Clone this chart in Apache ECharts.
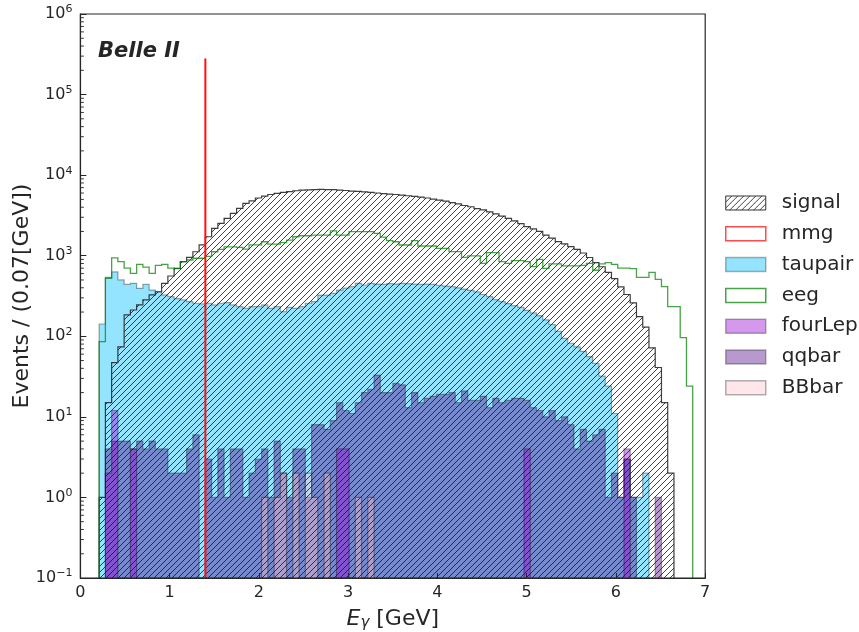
<!DOCTYPE html>
<html>
<head>
<meta charset="utf-8">
<script src="https://cdn.jsdelivr.net/npm/echarts@6/dist/echarts.min.js"></script>
<style>
html, body { margin: 0; padding: 0; background: #ffffff; }
#chart { width: 859px; height: 632px; }
</style>
</head>
<body>
<div id="chart"></div>
<script>
// Photon energy spectrum, 100 bins of 0.07 GeV from 0 to 7 GeV
const BIN = 0.07;
const Y_MIN = 0.1;
const Y_MAX = 1e6;

const signal = [
  0, 0, 0, 1, 15, 47, 74, 184, 212, 245,
  283, 326, 357, 454, 560, 698, 844, 955, 1120, 1360,
  1720, 2190, 2520, 2910, 3360, 3870, 4470, 4780, 5200, 5500,
  5750, 5950, 6100, 6250, 6400, 6500, 6550, 6600, 6650, 6600,
  6600, 6500, 6450, 6350, 6300, 6200, 6100, 6000, 5900, 5800,
  5750, 5650, 5550, 5450, 5350, 5200, 5050, 4900, 4750, 4550,
  4400, 4200, 4050, 3850, 3700, 3500, 3300, 3100, 2900, 2700,
  2500, 2300, 2150, 2000, 1800, 1650, 1500, 1400, 1300, 1200,
  1080, 950, 820, 730, 620, 520, 410, 330, 260, 175,
  130, 72, 41, 15, 2, 0, 0, 0, 0, 0
];

const taupair = [
  0, 0, 0, 142, 540, 630, 500, 440, 454, 394,
  440, 375, 357, 326, 310, 294, 283, 270, 257, 252,
  257, 245, 257, 262, 245, 233, 222, 233, 233, 245,
  222, 233, 202, 228, 222, 233, 257, 270, 325, 325,
  341, 375, 395, 413, 454, 433, 454, 445, 440, 450,
  445, 454, 450, 445, 440, 445, 440, 430, 420, 413,
  400, 385, 372, 355, 330, 310, 285, 270, 255, 240,
  228, 210, 195, 180, 160, 140, 115, 94, 82, 74,
  65, 56, 46, 32, 24, 11, 1, 3, 1, 1,
  2, 0, 0, 0, 0, 0, 0, 0, 0, 0
];

const eeg = [
  0, 0, 0, 86, 525, 940, 845, 700, 605, 780,
  720, 605, 760, 780, 700, 690, 845, 885, 930, 930,
  980, 1120, 1200, 1290, 1290, 1270, 1210, 1360, 1360, 1490,
  1395, 1395, 1450, 1565, 1720, 1770, 1770, 1805, 1805, 1805,
  2030, 1805, 1805, 1990, 1990, 1990, 1990, 1895, 1700, 1535,
  1490, 1358, 1358, 1535, 1320, 1320, 1320, 1235, 1235, 1122,
  1122, 955, 993, 993, 805, 1090, 1090, 845, 805, 870,
  870, 845, 731, 902, 697, 790, 790, 750, 750, 750,
  760, 805, 660, 790, 820, 780, 700, 700, 690, 540,
  540, 622, 509, 413, 233, 233, 96, 24, 0, 0
];

const qqbar = [
  0, 0, 0, 0, 4, 5, 5, 5, 4, 5,
  4, 5, 4, 4, 2, 2, 2, 4, 6, 0,
  3, 1, 4, 1, 4, 4, 1, 2, 3, 4,
  1, 5, 2, 1, 4, 4, 1, 8, 8, 7,
  9, 15, 12, 11, 15, 20, 22, 33, 20, 20,
  26, 25, 13, 20, 15, 17, 18, 19, 19, 20,
  15, 21, 16, 16, 18, 13, 17, 15, 16, 17,
  17, 16, 13, 12, 10, 12, 9, 10, 8, 4,
  7, 5, 6, 7, 1, 2, 1, 3, 1, 0,
  0, 0, 1, 0, 0, 0, 0, 0, 0, 0
];

const fourLep = [
  0, 0, 0, 0, 2, 12, 0, 0, 4, 0,
  0, 0, 0, 0, 0, 0, 0, 0, 0, 0,
  0, 0, 0, 0, 0, 0, 0, 0, 0, 0,
  0, 0, 0, 0, 0, 0, 0, 0, 0, 0,
  0, 4, 4, 0, 0, 0, 0, 0, 0, 0,
  0, 0, 0, 0, 0, 0, 0, 0, 0, 0,
  0, 0, 0, 0, 0, 0, 0, 0, 0, 0,
  0, 4, 0, 0, 0, 0, 0, 0, 0, 0,
  0, 0, 0, 0, 0, 0, 0, 4, 0, 0,
  0, 0, 0, 0, 0, 0, 0, 0, 0, 0
];

const BBbar = [
  0, 0, 0, 0, 0, 0, 0, 0, 0, 0,
  0, 0, 0, 0, 0, 0, 0, 0, 0, 0,
  0, 0, 0, 0, 0, 0, 0, 0, 0, 1,
  0, 1, 2, 0, 2, 0, 2, 1, 0, 2,
  0, 0, 0, 0, 1, 0, 1, 0, 0, 0,
  0, 0, 0, 0, 0, 0, 0, 0, 0, 0,
  0, 0, 0, 0, 0, 0, 0, 0, 0, 0,
  0, 0, 0, 0, 0, 0, 0, 0, 0, 0,
  0, 0, 0, 0, 0, 0, 0, 0, 0, 0,
  0, 0, 0, 0, 0, 0, 0, 0, 0, 0
];

// mmg: a single narrow spike
const mmgEnergy = [1.4];
const mmgCount = [2.8e5];

const xTicks = [0, 1, 2, 3, 4, 5, 6, 7];

// diagonal hatch tile for the signal histogram
function hatchTile(color) {
  const c = document.createElement('canvas');
  c.width = 6; c.height = 6;
  const g = c.getContext('2d');
  g.strokeStyle = color;
  g.lineWidth = 1;
  g.beginPath();
  g.moveTo(0, 6); g.lineTo(6, 0);
  g.moveTo(-3, 3); g.lineTo(3, -3);
  g.moveTo(3, 9); g.lineTo(9, 3);
  g.stroke();
  return c;
}
const hatch = { image: hatchTile('rgba(20,20,20,0.8)'), repeat: 'repeat' };

// closed step polygon (fill area) of a histogram, through the cartesian axes
function fillPoints(api, counts) {
  const pts = [];
  const n = counts.length;
  pts.push(api.coord([0, Y_MIN]));
  for (let i = 0; i < n; i++) {
    const v = counts[i] > 0 ? counts[i] : Y_MIN;
    pts.push(api.coord([i * BIN, v]));
    pts.push(api.coord([(i + 1) * BIN, v]));
  }
  pts.push(api.coord([n * BIN, Y_MIN]));
  return pts;
}

// open step outline from the first to the last filled bin
function outlinePoints(api, counts) {
  let first = counts.findIndex(c => c > 0);
  let last = counts.length - 1;
  while (last >= 0 && !(counts[last] > 0)) last--;
  const pts = [];
  if (first < 0) return pts;
  pts.push(api.coord([first * BIN, Y_MIN]));
  for (let i = first; i <= last; i++) {
    const v = counts[i] > 0 ? counts[i] : Y_MIN;
    pts.push(api.coord([i * BIN, v]));
    pts.push(api.coord([(i + 1) * BIN, v]));
  }
  pts.push(api.coord([(last + 1) * BIN, Y_MIN]));
  return pts;
}

function filledHist(name, counts, fill, stroke, lw, z) {
  return {
    type: 'custom', name: name, coordinateSystem: 'cartesian2d',
    data: [[3.5, 1]], clip: true, silent: true, z: z,
    renderItem: function (params, api) {
      return {
        type: 'group',
        children: [
          { type: 'polygon', shape: { points: fillPoints(api, counts) }, style: { fill: fill, stroke: null } },
          { type: 'polyline', shape: { points: outlinePoints(api, counts) },
            style: { fill: null, stroke: stroke, lineWidth: lw, lineJoin: 'miter' } }
        ]
      };
    }
  };
}

function stepHist(name, counts, stroke, lw, z) {
  return {
    type: 'custom', name: name, coordinateSystem: 'cartesian2d',
    data: [[3.5, 1]], clip: true, silent: true, z: z,
    renderItem: function (params, api) {
      return {
        type: 'polyline',
        shape: { points: outlinePoints(api, counts) },
        style: { fill: null, stroke: stroke, lineWidth: lw, lineJoin: 'miter' }
      };
    }
  };
}

// log-axis minor ticks (2..9 within each decade)
const minorTicks = [];
for (let e = -1; e < 6; e++) {
  for (let m = 2; m <= 9; m++) minorTicks.push(m * Math.pow(10, e));
}

const C = {
  taupair: 'rgba(0,191,255,0.42)',
  qqbar: 'rgba(75,0,130,0.4)',
  fourLep: 'rgba(148,0,211,0.4)',
  BBbar: 'rgba(255,192,203,0.4)',
  edge: 'rgba(0,0,0,0.35)',
  eeg: 'rgba(0,128,0,0.72)',
  mmg: '#ff1111',
  sig: 'rgba(30,30,30,0.85)'
};

const supText = e => '10{sup|' + (e < 0 ? '\u2212' + (-e) : String(e)) + '}';

const option = {
  animation: false,
  backgroundColor: '#ffffff',
  grid: { left: 80.4, top: 14, width: 624.8, height: 564, show: false, containLabel: false, outerBoundsMode: 'none' },
  xAxis: {
    type: 'value', min: 0, max: 7, interval: 1, z: 10,
    axisLine: { show: true, lineStyle: { color: '#262626', width: 1.2 } },
    axisTick: { show: true, inside: true, length: 5, lineStyle: { color: '#262626' } },
    splitLine: { show: false },
    axisLabel: {
      margin: 7, color: '#262626', fontSize: 16, fontFamily: 'DejaVu Sans',
      formatter: v => xTicks.indexOf(v) >= 0 ? String(v) : ''
    },
    name: '{it|E}{sub|\u03b3} [GeV]',
    nameLocation: 'middle', nameGap: 29, nameMoveOverlap: false,
    nameTextStyle: {
      color: '#262626', fontSize: 22, fontFamily: 'DejaVu Sans',
      rich: {
        it: { fontSize: 22, fontStyle: 'italic', fontFamily: 'DejaVu Sans', color: '#262626' },
        sub: { fontSize: 15, fontStyle: 'italic', fontFamily: 'DejaVu Sans', color: '#262626', padding: [9, 0, 0, 0] }
      }
    }
  },
  yAxis: {
    type: 'log', logBase: 10, min: Y_MIN, max: Y_MAX, interval: 1, z: 10,
    axisLine: { show: true, lineStyle: { color: '#262626', width: 1.2 } },
    axisTick: { show: true, inside: true, length: 6, lineStyle: { color: '#262626' } },
    splitLine: { show: false },
    axisLabel: {
      margin: 8, color: '#262626', fontSize: 16, fontFamily: 'DejaVu Sans',
      formatter: v => supText(Math.round(Math.log10(v))),
      rich: {
        sup: { fontSize: 11, fontFamily: 'DejaVu Sans', color: '#262626', padding: [0, 0, 9, 0] }
      }
    },
    name: 'Events / (0.07[GeV])',
    nameLocation: 'middle', nameGap: 47, nameRotate: 90, nameMoveOverlap: false,
    nameTextStyle: { color: '#262626', fontSize: 22, fontFamily: 'DejaVu Sans' }
  },
  legend: {
    orient: 'vertical', left: 725, top: 193, padding: 0,
    itemWidth: 40, itemHeight: 14, itemGap: 10.8,
    selectedMode: false, icon: 'rect',
    textStyle: { fontSize: 20, lineHeight: 20, fontFamily: 'DejaVu Sans', color: '#262626', padding: [0, 0, 0, 11] },
    data: [
      { name: 'signal', itemStyle: { color: hatch, borderColor: '#333', borderWidth: 1 } },
      { name: 'mmg', itemStyle: { color: '#ffffff', borderColor: 'rgba(255,0,0,0.7)', borderWidth: 1.5 } },
      { name: 'taupair', itemStyle: { color: C.taupair, borderColor: 'rgba(0,0,0,0.3)', borderWidth: 1.5 } },
      { name: 'eeg', itemStyle: { color: '#ffffff', borderColor: C.eeg, borderWidth: 1.5 } },
      { name: 'fourLep', itemStyle: { color: C.fourLep, borderColor: 'rgba(0,0,0,0.3)', borderWidth: 1.5 } },
      { name: 'qqbar', itemStyle: { color: C.qqbar, borderColor: 'rgba(0,0,0,0.3)', borderWidth: 1.5 } },
      { name: 'BBbar', itemStyle: { color: C.BBbar, borderColor: 'rgba(0,0,0,0.3)', borderWidth: 1.5 } }
    ]
  },
  graphic: [
    {
      type: 'text', left: 98, top: 41, z: 20,
      style: { text: 'Belle II', fill: '#262626', font: 'italic bold 21px "DejaVu Sans"' }
    },
    {
      type: 'rect', z: 50, silent: true,
      shape: { x: 80.4, y: 14, width: 624.8, height: 564 },
      style: { fill: null, stroke: '#262626', lineWidth: 1.2 }
    }
  ],
  series: [
    filledHist('taupair', taupair, C.taupair, C.edge, 1.2, 2),
    filledHist('qqbar', qqbar, C.qqbar, C.edge, 1.2, 3),
    filledHist('fourLep', fourLep, C.fourLep, C.edge, 1.2, 4),
    filledHist('BBbar', BBbar, C.BBbar, C.edge, 1.2, 5),
    filledHist('signal', signal, hatch, C.sig, 1.2, 6),
    stepHist('eeg', eeg, C.eeg, 1.3, 7),
    {
      type: 'custom', name: 'mmg', coordinateSystem: 'cartesian2d',
      data: mmgEnergy.map((e, i) => [e, mmgCount[i]]), clip: true, silent: true, z: 8,
      renderItem: function (params, api) {
        const top = api.coord([api.value(0), api.value(1)]);
        const bot = api.coord([api.value(0), Y_MIN]);
        return {
          type: 'line',
          shape: { x1: top[0], y1: top[1], x2: bot[0], y2: bot[1] },
          style: { stroke: C.mmg, lineWidth: 2 }
        };
      }
    },
    {
      type: 'custom', name: 'minor', coordinateSystem: 'cartesian2d',
      data: minorTicks.map(v => [0, v]), clip: false, silent: true, z: 12,
      renderItem: function (params, api) {
        const p = api.coord([0, api.value(1)]);
        return {
          type: 'line',
          shape: { x1: p[0], y1: p[1], x2: p[0] + 3.5, y2: p[1] },
          style: { stroke: '#262626', lineWidth: 0.9 }
        };
      }
    }
  ]
};

const chart = echarts.init(document.getElementById('chart'), null, { renderer: 'canvas' });
chart.setOption(option);
</script>
</body>
</html>
